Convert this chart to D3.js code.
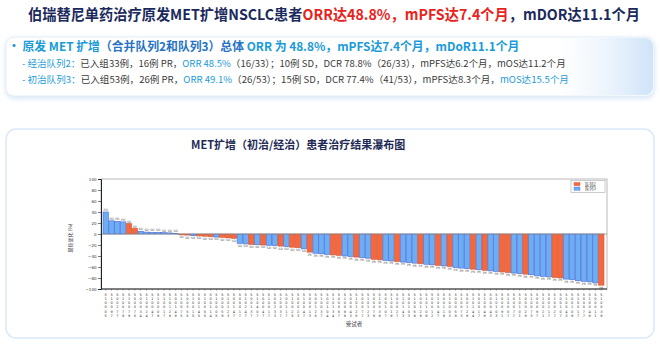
<!DOCTYPE html>
<html>
<head>
<meta charset="utf-8">
<script src="https://cdn.jsdelivr.net/npm/d3@7"></script>
<style>
  body { margin: 0; background: #fff; }
  svg { display: block; font-family: "Noto Sans CJK SC", "Noto Sans", sans-serif; }
</style>
</head>
<body>
<div id="chart"></div>
<script>
// best change from baseline (%) per patient, sorted as in the waterfall
const values = [40, 24, 23, 22, 19, 10, 5, 3.5, 3, 3, 2.5, 2, 1,
  -1.5, -2, -3, -3.5, -4, -5, -5.5, -6, -7, -8,
  -17, -18, -19, -19.5, -20, -20.5, -21, -22, -23, -24, -25, -27,
  -33, -35, -36, -37, -38, -39, -40, -41, -42, -43, -44, -46, -47, -48, -49,
  -50, -51, -52, -53, -54, -55, -56, -57, -58, -59, -61, -62, -63, -64, -65,
  -66, -67, -68, -69, -70, -71, -72, -73, -74, -76, -77, -78, -79, -80, -82,
  -83, -85, -86, -87, -89, -93];
// cohort of each patient (2 = previously treated, 3 = treatment naive)
const cohorts = [3, 3, 3, 3, 2, 2, 3, 3, 3, 3, 3, 3, 3,
  2, 2, 3, 2, 2, 2, 3, 2, 2, 2,
  3, 3, 2, 3, 2, 3, 3, 2, 3, 2, 2, 3,
  2, 3, 3, 3, 2, 2, 3, 3, 2, 3, 3, 2, 2, 3, 3,
  2, 3, 3, 3, 2, 3, 3, 2, 3, 2, 3, 3, 3, 2, 3,
  2, 3, 3, 2, 2, 3, 3, 2, 3, 3, 3, 3, 2, 2, 3,
  3, 3, 3, 3, 3, 2];
const patientIds = ["510005","510097","500277","510079","510079","500070","500034","510024","510047","510009",
  "510017","510129","500149","510075","500355","510015","500145","510055","500114","510005",
  "500059","510123","500147","500017","510247","500137","510407","500047","510017","500233",
  "510037","500117","510025","500023","510047","500013","500126","510037","500104","510134",
  "500067","510099","500043","510126","500077","510123","500079","510039","500107","510019",
  "500027","510143","500103","510069","500129","510109","500012","510047","500119","510003",
  "500059","510073","500129","510144","500017","510049","500043","510103","500091","510007",
  "500077","510101","500029","510073","500097","510021","500117","510027","500107","510043",
  "500109","510017","500077","510049","500011","510039"];
const yTicks = [100, 80, 60, 40, 20, 0, -20, -40, -60, -80, -100];
const legendLabels = ["队列2", "队列3"];

const W = 660, H = 345;
const svg = d3.select('#chart').append('svg')
    .attr('width', W)
    .attr('height', H);

const defs = svg.append('defs');
const glow = defs.append('linearGradient').attr('id', 'glow')
    .attr('x1', '0').attr('x2', '1');
glow.append('stop').attr('offset', '0').attr('stop-color', '#e3effb').attr('stop-opacity', 0);
glow.append('stop').attr('offset', '1').attr('stop-color', '#cfe3f8').attr('stop-opacity', 1);
const shadow = defs.append('filter').attr('id', 'shadow')
    .attr('x', '-5%').attr('y', '-20%').attr('width', '110%').attr('height', '150%');
shadow.append('feDropShadow').attr('dx', 0).attr('dy', 2).attr('stdDeviation', 2.5)
    .attr('flood-color', '#9cc4ea').attr('flood-opacity', 0.45);

// squeeze a text line horizontally so it spans the width seen in the slide
function fit(t, x0, y0, width) {
    const w = t.node().getComputedTextLength();
    t.attr('x', 0).attr('y', 0)
        .attr('transform', `translate(${x0},${y0}) scale(${width / w},1)`);
}

// main title
const title = svg.append('text')
    .attr('font-size', 15).attr('font-weight', 'bold')
    .attr('fill', '#1b2a5c');
title.append('tspan').text('伯瑞替尼单药治疗原发MET扩增NSCLC患者');
title.append('tspan').attr('fill', '#e8231b').text('ORR达48.8%，mPFS达7.4个月');
title.append('tspan').text('，mDOR达11.1个月');
fit(title, 28, 20, 612);

// summary box
svg.append('rect')
    .attr('x', 6).attr('y', 37).attr('width', 648).attr('height', 59).attr('rx', 8)
    .attr('fill', '#fff').attr('stroke', '#e4eef8')
    .attr('filter', 'url(#shadow)');
svg.append('rect')
    .attr('x', 560).attr('y', 38).attr('width', 93).attr('height', 57).attr('rx', 8)
    .attr('fill', 'url(#glow)');

const blue = '#1a9ad8';
const bullet = svg.append('text')
    .attr('font-size', 12).attr('font-weight', 'bold').attr('fill', blue);
bullet.append('tspan').text('•  原发 MET 扩增');
bullet.append('tspan').attr('fill', '#2672c4').text('（合并队列2和队列3）总体');
bullet.append('tspan').text(' ORR 为 48.8%，mPFS达7.4个月，mDoR11.1个月');
fit(bullet, 8, 51, 512);

function subLine(y, width, parts) {
    const t = svg.append('text')
        .attr('font-size', 9.4).attr('fill', '#3a3a3a');
    parts.forEach(p => {
        t.append('tspan').attr('fill', p[1] ? blue : '#3a3a3a').text(p[0]);
    });
    fit(t, 22, y, width);
}
subLine(67, 543, [['- 经治队列2：', true], ['已入组33例，16例 PR，', false], ['ORR 48.5%', true],
    ['（16/33）；10例 SD，DCR 78.8%（26/33），mPFS达6.2个月，mOS达11.2个月', false]]);
subLine(83, 546, [['- 初治队列3：', true], ['已入组53例，26例 PR，', false], ['ORR 49.1%', true],
    ['（26/53）；15例 SD，DCR 77.4%（41/53），mPFS达8.3个月，', false], ['mOS达15.5个月', true]]);

// chart box
svg.append('rect')
    .attr('x', 6).attr('y', 129).attr('width', 648).attr('height', 209).attr('rx', 10)
    .attr('fill', '#fff').attr('stroke', '#d9e9f7').attr('stroke-width', 1.5);

svg.append('text')
    .attr('x', 191).attr('y', 149)
    .attr('font-size', 11).attr('font-weight', 'bold').attr('fill', '#1e2a55')
    .text('MET扩增（初治/经治）患者治疗结果瀑布图');

// waterfall plot
const plot = {left: 101, right: 607, top: 179, bottom: 289};
const x = d3.scaleBand()
    .domain(d3.range(values.length))
    .range([plot.left + 2, plot.right - 3])
    .paddingInner(0.08);
const y = d3.scaleLinear()
    .domain([-100, 100])
    .range([plot.bottom, plot.top]);

svg.append('rect')
    .attr('x', plot.left).attr('y', plot.top)
    .attr('width', plot.right - plot.left).attr('height', plot.bottom - plot.top)
    .attr('fill', 'none').attr('stroke', '#a8a8a8').attr('stroke-width', 0.8);

const fill = {2: '#f4683f', 3: '#6dadf3'};
const edge = {2: '#d9552f', 3: '#4a6ad8'};

svg.append('g')
    .selectAll('rect')
    .data(values)
    .join('rect')
    .attr('x', (d, i) => x(i))
    .attr('y', d => y(Math.max(0, d)))
    .attr('width', x.bandwidth())
    .attr('height', d => Math.abs(y(d) - y(0)))
    .attr('fill', (d, i) => fill[cohorts[i]])
    .attr('stroke', (d, i) => edge[cohorts[i]])
    .attr('stroke-width', 0.6);

svg.append('line')
    .attr('x1', plot.left).attr('x2', plot.right)
    .attr('y1', y(0)).attr('y2', y(0))
    .attr('stroke', '#8a8a8a').attr('stroke-width', 0.8);

// response labels
const resp = d => d > 20 ? 'PD' : (d <= -30 ? 'PR' : 'SD');
svg.append('g')
    .attr('font-family', 'DejaVu Sans')
    .selectAll('text')
    .data(values)
    .join('text')
    .attr('x', (d, i) => x(i) + x.bandwidth() / 2)
    .attr('y', d => d >= 0 ? y(d) - 1 : y(d) + 3.4)
    .attr('text-anchor', 'middle')
    .attr('font-size', 3)
    .attr('fill', '#555')
    .text(resp);

// axes
const yAxis = svg.append('g')
    .attr('transform', `translate(${plot.left},0)`)
    .call(d3.axisLeft(y).tickValues(yTicks).tickSize(3).tickPadding(1.5));
yAxis.selectAll('text').attr('font-size', 4).attr('fill', '#333').attr('font-family', 'DejaVu Sans');
yAxis.select('.domain').attr('stroke', '#222').attr('stroke-width', 1);
yAxis.selectAll('.tick line').attr('stroke', '#222').attr('stroke-width', 0.6);

const xAxis = svg.append('g')
    .attr('transform', `translate(0,${plot.bottom})`)
    .call(d3.axisBottom(x).tickSize(1.5).tickFormat(''));
xAxis.select('.domain').attr('stroke', '#222').attr('stroke-width', 1)
    .attr('d', `M${plot.left},0H${plot.right}`);
xAxis.selectAll('.tick line').attr('stroke', '#444').attr('stroke-width', 0.5);

// patient ids, one digit per row
const idGroup = svg.append('g')
    .attr('font-size', 3.5).attr('fill', '#333').attr('text-anchor', 'middle')
    .attr('font-family', 'DejaVu Sans');
patientIds.forEach((id, i) => {
    id.split('').forEach((c, k) => {
        idGroup.append('text')
            .attr('x', x(i) + x.bandwidth() / 2)
            .attr('y', plot.bottom + 6.5 + k * 4.3)
            .text(c);
    });
});

svg.append('text')
    .attr('x', (plot.left + plot.right) / 2).attr('y', 326)
    .attr('text-anchor', 'middle')
    .attr('font-size', 5.5).attr('fill', '#444')
    .text('受试者');

svg.append('text')
    .attr('transform', `translate(72,${(plot.top + plot.bottom) / 2 + 4}) rotate(-90)`)
    .attr('text-anchor', 'middle')
    .attr('font-size', 5).attr('fill', '#444')
    .text('最佳变化 (%)');

// legend
const lg = svg.append('g').attr('transform', `translate(${plot.right - 36},${plot.top + 1.5})`);
lg.append('rect').attr('width', 34).attr('height', 12)
    .attr('fill', '#fff').attr('stroke', '#999').attr('stroke-width', 0.5);
legendLabels.forEach((l, i) => {
    lg.append('rect')
        .attr('x', 3).attr('y', 2 + i * 4.5)
        .attr('width', 6).attr('height', 3.2)
        .attr('fill', fill[i + 2]).attr('stroke', edge[i + 2]).attr('stroke-width', 0.4);
    lg.append('text')
        .attr('x', 14).attr('y', 5 + i * 4.5)
        .attr('font-size', 4.2).attr('fill', '#444')
        .text(l);
});
</script>
</body>
</html>
